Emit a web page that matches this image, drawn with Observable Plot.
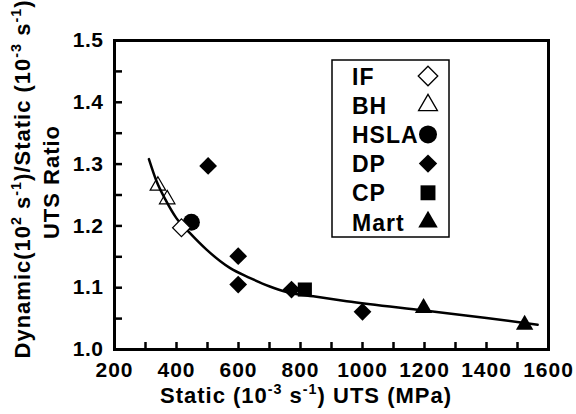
<!DOCTYPE html>
<html><head><meta charset="utf-8">
<script src="https://cdn.jsdelivr.net/npm/d3@7"></script>
<script src="https://cdn.jsdelivr.net/npm/@observablehq/plot@0.6"></script>
<style>
body{margin:0;background:#fff}#chart{position:relative;width:576px;height:414px}
#chart svg g[aria-label$="tick label"], #chart svg g[aria-label$="tick label"] text{font-size:21px !important;font-weight:bold !important;fill:#000 !important}
#chart svg g[aria-label="x-axis tick label"] text{letter-spacing:1px}
#chart svg g[aria-label="y-axis tick label"] text{letter-spacing:0.5px}
</style>
</head><body><div id="chart"></div>
<script>
// Data
const ifX = [416], ifY = [1.197];
const bhX = [340, 370], bhY = [1.265, 1.243];
const hslaX = [448], hslaY = [1.206];
const dpX = [502, 599, 599, 771, 1000], dpY = [1.297, 1.151, 1.105, 1.097, 1.061];
const cpX = [814], cpY = [1.097];
const martX = [1197, 1523], martY = [1.067, 1.040];
const fitX = [311, 335, 367, 399, 442, 496, 572, 636, 701, 755, 841, 949, 1200, 1400, 1565];
const fitY = [1.308, 1.273, 1.240, 1.213, 1.189, 1.162, 1.132, 1.116, 1.102, 1.093, 1.086, 1.078, 1.063, 1.051, 1.040];
const xLabelTicks = [200, 400, 600, 800, 1000, 1200, 1400, 1600];
const xMinorTicks = [300, 400, 500, 600, 700, 800, 900, 1000, 1100, 1200, 1300, 1400, 1500];
const yLabelTicks = [1.0, 1.1, 1.2, 1.3, 1.4, 1.5];
const yMinorTicks = [1.05, 1.1, 1.15, 1.2, 1.25, 1.3, 1.35, 1.4, 1.45];
const legendLabels = ["IF", "BH", "HSLA", "DP", "CP", "Mart"];

const pts = (xs, ys) => xs.map((x, i) => ({x, y: ys[i]}));
const W = 576, H = 414, mT = 40, mB = 65, mL = 114, mR = 28;
const innerH = H - mT - mB, innerW = W - mL - mR;
const font = "'Liberation Sans', Arial, sans-serif";

const plot = Plot.plot({
  width: W, height: H,
  marginTop: mT, marginBottom: mB, marginLeft: mL, marginRight: mR,
  style: {fontFamily: font, color: "#000", background: "#fff"},
  x: {domain: [200, 1600]},
  y: {domain: [1.0, 1.5]},
  marks: [
    Plot.axisX({ticks: xLabelTicks, tickSize: 0, tickPadding: 13, label: null, tickFormat: d3.format("d"),
      fontSize: 21, fontWeight: "bold", fill: "#000"}),
    Plot.axisY({ticks: yLabelTicks, tickSize: 0, tickPadding: 11, label: null, tickFormat: d3.format(".1f"),
      fontSize: 21, fontWeight: "bold", fill: "#000"}),
    Plot.tickX(xMinorTicks, {x: d => d, insetTop: innerH - 7, strokeWidth: 2.5, stroke: "#000"}),
    Plot.tickY(yMinorTicks, {y: d => d, insetRight: innerW - 8, strokeWidth: 2.5, stroke: "#000"}),
    Plot.line(pts(fitX, fitY), {x: "x", y: "y", curve: "monotone-x", stroke: "#000", strokeWidth: 2.5}),
    Plot.dot(pts(bhX, bhY), {x: "x", y: "y", symbol: "triangle2", r: 7.4, fill: "none", stroke: "#000", strokeWidth: 1.2}),
    Plot.dot(pts(hslaX, hslaY), {x: "x", y: "y", symbol: "circle", r: 8.5, fill: "#000", stroke: "none"}),
    Plot.dot(pts(ifX, ifY), {x: "x", y: "y", symbol: "diamond2", r: 8, fill: "#fff", stroke: "#000", strokeWidth: 1.2}),
    Plot.dot(pts(dpX, dpY), {x: "x", y: "y", symbol: "diamond2", r: 8, fill: "#000", stroke: "none"}),
    Plot.dot(pts(cpX, cpY), {x: "x", y: "y", symbol: "square2", r: 9, fill: "#000", stroke: "none"}),
    Plot.dot(pts(martX, martY), {x: "x", y: "y", symbol: "triangle2", r: 8.3, fill: "#000", stroke: "none"}),
    Plot.frame({stroke: "#000", strokeWidth: 3})
  ]
});
document.getElementById("chart").appendChild(plot);

const svg = d3.select(plot);
function rich(sel, parts, size) {
  const shift = size * 0.42;
  let raised = false;
  parts.forEach(([t, sup]) => {
    const ts = sel.append("tspan").text(t);
    if (sup) {
      ts.attr("font-size", size * 0.65).attr("dy", raised ? 0 : -shift);
      raised = true;
    } else {
      ts.attr("font-size", size);
      if (raised) { ts.attr("dy", shift); raised = false; }
    }
  });
}
// X title
const xt = svg.append("text").attr("x", 306).attr("y", 403).attr("text-anchor", "middle")
  .attr("font-family", font).attr("font-weight", "bold").attr("font-size", 22).attr("letter-spacing", "1px").attr("fill", "#000");
rich(xt, [["Static (10"], ["-3", 1], [" s"], ["-1", 1], [") UTS (MPa)"]], 22);
// Y title (two lines)
const yt1 = svg.append("text").attr("transform", "translate(30,179) rotate(-90)").attr("text-anchor", "middle")
  .attr("font-family", font).attr("font-weight", "bold").attr("font-size", 22).attr("letter-spacing", "1px").attr("fill", "#000");
rich(yt1, [["Dynamic(10"], ["2", 1], [" s"], ["-1", 1], [")/Static (10"], ["-3", 1], [" s"], ["-1", 1], [")"]], 22);
svg.append("text").attr("transform", "translate(59,182) rotate(-90)").attr("text-anchor", "middle")
  .attr("font-family", font).attr("font-weight", "bold").attr("letter-spacing", "1px").attr("fill", "#000").attr("font-size", 22)
  .text("UTS Ratio");

// Legend
const lg = svg.append("g");
lg.append("rect").attr("x", 332).attr("y", 60).attr("width", 117).attr("height", 177)
  .attr("fill", "#fff").attr("stroke", "#000").attr("stroke-width", 1.5);
const symSpec = [
  {type: d3.symbolDiamond2, r: 8.8, fill: "#fff", stroke: "#000"},
  {type: d3.symbolTriangle2, r: 9, fill: "#fff", stroke: "#000"},
  {type: d3.symbolCircle, r: 9, fill: "#000", stroke: "none"},
  {type: d3.symbolDiamond2, r: 8.3, fill: "#000", stroke: "none"},
  {type: d3.symbolSquare2, r: 9.5, fill: "#000", stroke: "none"},
  {type: d3.symbolTriangle2, r: 9.3, fill: "#000", stroke: "none"}
];
legendLabels.forEach((lab, i) => {
  const cy = 76 + i * 29.2;
  lg.append("text").attr("x", 352).attr("y", cy + 8.5).attr("text-anchor", "start")
    .attr("font-family", font).attr("font-weight", "bold")
    .attr("font-size", 23).attr("letter-spacing", "1px").attr("fill", "#000").text(lab);
  const s = symSpec[i];
  lg.append("path").attr("transform", `translate(428,${cy})`)
    .attr("d", d3.symbol(s.type, Math.PI * s.r * s.r)())
    .attr("fill", s.fill).attr("stroke", s.stroke).attr("stroke-width", 1.3);
});
</script></body></html>
